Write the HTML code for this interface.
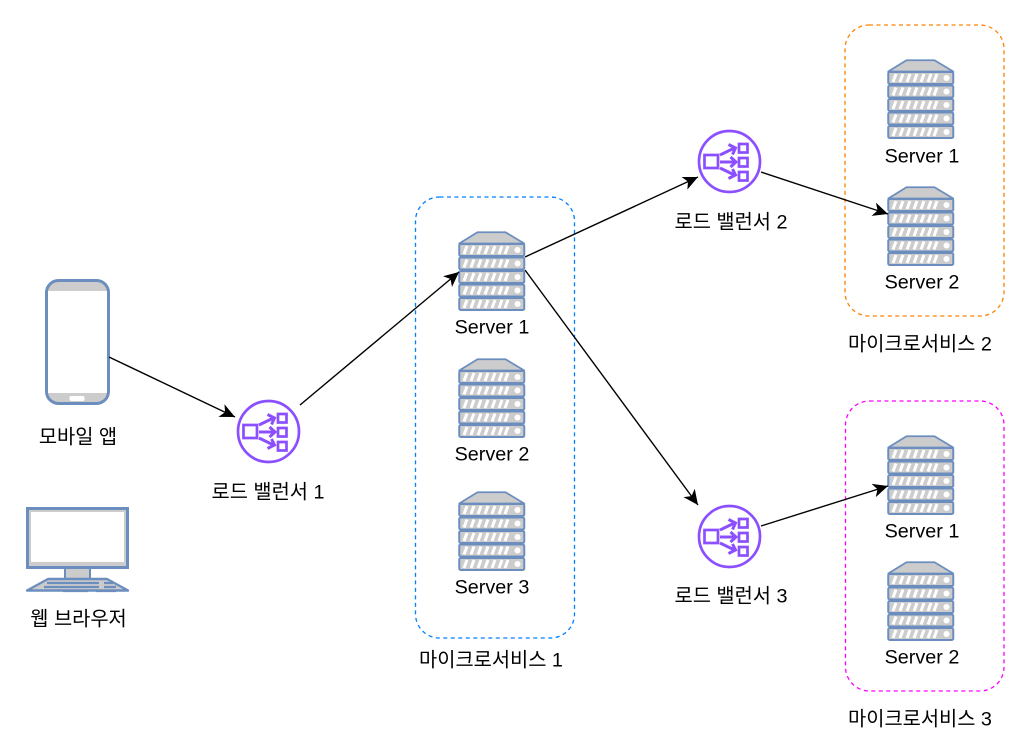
<!DOCTYPE html>
<html><head><meta charset="utf-8">
<style>
html,body{margin:0;padding:0;background:#fff;}
svg{display:block;}
text{font-family:"Liberation Sans","Noto Sans CJK KR","NanumGothic",sans-serif;font-size:19.8px;fill:#000;text-anchor:middle;}
</style></head>
<body>
<svg width="1033" height="752" viewBox="0 0 1033 752" xmlns="http://www.w3.org/2000/svg">
<defs>
<g id="row">
<rect x="0.75" y="0" width="65" height="12" rx="1.5" fill="#cccccc" stroke="#6c8ebf" stroke-width="2"/>
<g stroke="#fff" stroke-width="3" fill="none">
<path d="M5.5 10L8.5 2M12.5 10L15.5 2M19.5 10L22.5 2M26.5 10L29.5 2M33.5 10L36.5 2M40.5 10L43.5 2M46.5 10L49.5 2"/>
</g>
<circle cx="59" cy="6" r="3" fill="#fff"/>
</g>
<g id="server">
<path d="M0.75 12L19 0.75H47L65.75 12Z" fill="#cccccc" stroke="#6c8ebf" stroke-width="1.8" stroke-linejoin="round"/>
<use href="#row" y="12.5"/>
<use href="#row" y="26"/>
<use href="#row" y="39.5"/>
<use href="#row" y="53"/>
<use href="#row" y="66.5"/>
</g>
<g id="lb" fill="none" stroke="#8c4fff" stroke-width="2.7">
<circle cx="0" cy="0" r="30.5"/>
<rect x="-25" y="-6.5" width="13.5" height="13"/>
<rect x="9.5" y="-17.5" width="8.5" height="8.5"/>
<rect x="9.5" y="-3.5" width="8.5" height="8.5"/>
<rect x="9.5" y="10.5" width="8.5" height="8.5"/>
<path d="M-9.5 -6.5L5 -13.5M-9.5 0.5H6M-9.5 6.5L5 13.5" stroke-width="3"/>
<path d="M-1 -17L6 -13.5L3 -7M1 -4.5L6.5 0.5L1 5.5M3 7.5L6 13.5L-1 17" stroke-width="3"/>
</g>
<marker id="arr" markerUnits="userSpaceOnUse" markerWidth="18" markerHeight="16" refX="15" refY="7" orient="auto">
<path d="M0 0L15 7L0 14L4 7Z" fill="#000"/>
</marker>
</defs>

<rect x="415.5" y="197" width="159" height="441" rx="24" fill="none" stroke="#007fff" stroke-width="1.3" stroke-dasharray="4 3.5"/>
<rect x="845" y="25" width="159" height="291" rx="24" fill="none" stroke="#ff8000" stroke-width="1.3" stroke-dasharray="4 3.5"/>
<rect x="845.5" y="401" width="158.5" height="290" rx="24" fill="none" stroke="#ff00ff" stroke-width="1.3" stroke-dasharray="4 3.5"/>

<g transform="translate(26,507)">
<path d="M39 61H64V72H39Z" fill="#ccc" stroke="#6c8ebf" stroke-width="2"/>
<rect x="1.5" y="1.5" width="100" height="59" fill="#ccc" stroke="#6c8ebf" stroke-width="3"/>
<rect x="5" y="5" width="93" height="50" fill="#fff"/>
<path d="M22 72H81L102 83.5H1Z" fill="#ccc" stroke="#6c8ebf" stroke-width="2.4" stroke-linejoin="round"/>
<path d="M21 76H73M78 76H87M18 80H73M78 80H90M37 84H62M70 84H90" stroke="#6c8ebf" stroke-width="2.2"/>
</g>

<g transform="translate(45,279)">
<rect x="1.5" y="1.5" width="62" height="123" rx="12" fill="#ccc" stroke="#6c8ebf" stroke-width="3"/>
<rect x="3" y="12" width="59" height="102" fill="#fff"/>
<rect x="24.5" y="117" width="15" height="5" rx="2" fill="#fff"/>
</g>

<use href="#server" x="458.5" y="231.5"/>
<use href="#server" x="458.5" y="358.5"/>
<use href="#server" x="458.5" y="491.5"/>
<use href="#server" x="887.5" y="59.5"/>
<use href="#server" x="887.5" y="186.5"/>
<use href="#server" x="887.5" y="435.5"/>
<use href="#server" x="887.5" y="561.5"/>

<use href="#lb" x="268.5" y="431.5"/>
<use href="#lb" x="729.5" y="161.5"/>
<use href="#lb" x="729.5" y="536.5"/>

<g stroke="#000" stroke-width="1.4" fill="none">
<path d="M109 357L235 417" marker-end="url(#arr)"/>
<path d="M300 405L459 272" marker-end="url(#arr)"/>
<path d="M525 257L698 177" marker-end="url(#arr)"/>
<path d="M525 270L698 505" marker-end="url(#arr)"/>
<path d="M761 172L888 214" marker-end="url(#arr)"/>
<path d="M761 526L888 486" marker-end="url(#arr)"/>
</g>

<text x="78" y="443.5">모바일 앱</text>
<text x="78.5" y="625.5">웹 브라우저</text>
<text x="268" y="498.5">로드 밸런서 1</text>
<text x="731" y="228.5">로드 밸런서 2</text>
<text x="731" y="602.5">로드 밸런서 3</text>
<text x="492" y="333.5">Server 1</text>
<text x="492" y="460.5">Server 2</text>
<text x="492" y="593.5">Server 3</text>
<text x="922" y="162.5">Server 1</text>
<text x="922" y="288.5">Server 2</text>
<text x="922" y="537.5">Server 1</text>
<text x="922" y="663.5">Server 2</text>
<text x="491" y="666.5">마이크로서비스 1</text>
<text x="920" y="350.5">마이크로서비스 2</text>
<text x="920" y="725.5">마이크로서비스 3</text>
</svg>
</body></html>
